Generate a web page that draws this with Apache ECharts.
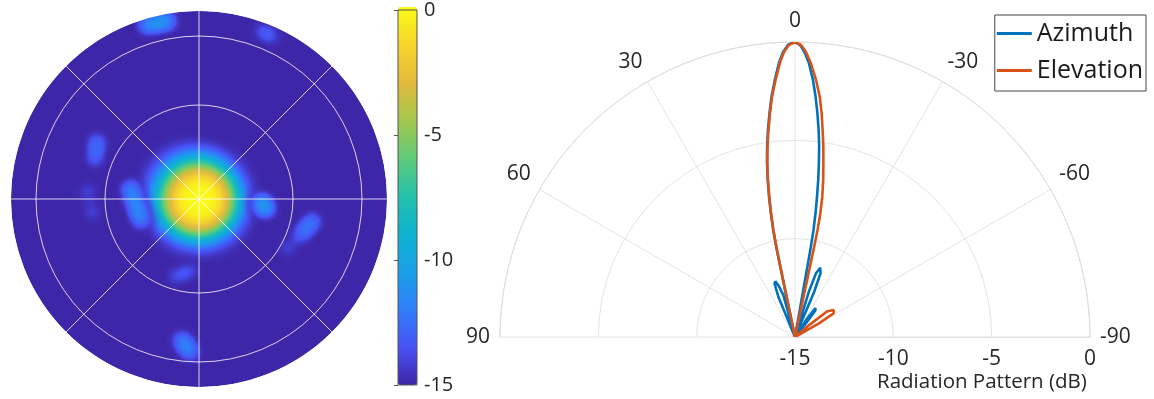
<!DOCTYPE html>
<html>
<head>
<meta charset="utf-8">
<script src="https://cdn.jsdelivr.net/npm/echarts@6/dist/echarts.min.js"></script>
<style>
  html, body { margin: 0; padding: 0; background: #ffffff; }
  #chart { width: 1154px; height: 399px; }
</style>
</head>
<body>
<div id="chart"></div>
<script>
// ---- Beam map in direction-cosine space: [u (right), v (up), level dB] ----
const mainBeamPoints = [
  [0.0, -0.005, 0],
  [-0.06, 0.05, -12.5]
];
const sideLobePoints = [
  [-0.277, 0.926, -12], [-0.218, 0.941, -11.8], [-0.165, 0.947, -12.2],
  [0.335, 0.894, -13.4], [0.388, 0.862, -13.6],
  [-0.543, 0.298, -12.5], [-0.553, 0.218, -12.9],
  [-0.59, 0.037, -13.6], [-0.569, -0.069, -13.6],
  [-0.362, 0.048, -11.6], [-0.335, -0.032, -11.4], [-0.309, -0.106, -11.8],
  [0.33, -0.016, -11.8], [0.356, -0.053, -11.8],
  [0.601, -0.122, -12.3], [0.548, -0.181, -12.5], [0.473, -0.261, -13.6],
  [-0.122, -0.41, -13.4], [-0.048, -0.383, -13.4],
  [-0.09, -0.755, -12], [-0.048, -0.809, -12.2]
];
const levelMin = -15;
const levelMax = 0;
const parulaStops = ['#3e26a8', '#4852f4', '#2f7ff9', '#1a9fe8', '#0db3d2', '#25c1aa',
                     '#5fcb7a', '#a4c64c', '#e3ba3e', '#f7d52b', '#f9fb15'];

// ---- Radiation pattern cuts: angle (deg) and level (dB) ----
const azimuthAngles = [90, 24, 22.5, 21, 19.5, 17.5, 15.5, 14.5,
  12.1, 11.9, 11.8, 11.5, 11.0, 10.5, 9.85, 9.15, 8.35, 7.45, 6.5, 5.6, 4.5, 3.3, 2.4, 1.3, 0,
  -1.1, -2.0, -2.9, -4.0, -4.9, -5.7, -6.5, -7.2, -7.8, -8.4, -8.9, -9.4, -9.8, -10.0, -10.0, -9.9,
  -16, -17, -18.2, -20, -21.8, -23, -24,
  -32, -33.5, -35.5, -37.5, -39, -40, -90];
const azimuthDb = [-15, -15, -12.8, -12.1, -12.0, -12.3, -12.8, -15,
  -15, -12.5, -10.5, -9.45, -8.58, -7.76, -6.9, -6.04, -5.24, -4.39, -3.54, -2.74, -1.9, -1.0, -0.5, -0.12, 0,
  -0.18, -0.55, -1.05, -1.9, -2.74, -3.55, -4.39, -5.2, -6.05, -6.9, -7.75, -8.6, -9.45, -10.5, -12.5, -15,
  -15, -12.6, -11.6, -11.25, -11.5, -12.5, -15,
  -15, -13.8, -13.2, -13.3, -14.2, -15, -15];
const elevationAngles = [90, 12.0, 11.8, 11.7, 11.45, 10.95, 10.4, 9.76, 9.05, 8.24, 7.3, 6.37, 5.47, 4.34, 3.1, 2.2, 1.2, 0,
  -1.2, -2.2, -3.3, -4.7, -5.9, -6.8, -7.6, -8.45, -9.25, -10.2, -11.0, -11.6, -11.9, -12.0, -12.0,
  -48, -50, -51.5, -55, -58.5, -60.5, -62, -90];
const elevationDb = [-15, -15, -12.5, -10.5, -9.45, -8.58, -7.76, -6.9, -6.04, -5.24, -4.39, -3.54, -2.74, -1.9, -1.0, -0.5, -0.15, 0,
  -0.15, -0.5, -1.05, -1.9, -2.73, -3.55, -4.38, -5.2, -6.03, -6.9, -7.73, -8.6, -9.43, -10.5, -15,
  -15, -14, -12.9, -12.6, -12.7, -13.6, -15, -15];

const FONT = '"Open Sans"';
const TEXT = '#262626';

// unit disk outline for the beam-map region
const diskRing = [];
for (let i = 0; i <= 180; i++) {
  const t = (i / 180) * Math.PI * 2;
  diskRing.push([Math.cos(t), Math.sin(t)]);
}
echarts.registerMap('uvDisk', {
  type: 'FeatureCollection',
  features: [{ type: 'Feature', properties: { name: 'disk' },
    geometry: { type: 'Polygon', coordinates: [diskRing] } }]
});

const chart = echarts.init(document.getElementById('chart'));

const pairs = (angles, levels) => angles.map((a, i) => [levels[i], a]);

// polar frames drawn over the beam map: rings, spokes and a white rim
const mapPolar = (r) => ({ center: [199, 199], radius: r });
const mapAngleAxis = (idx, opts) => ({
  polarIndex: idx, type: 'value', min: 0, max: 360, interval: 45, z: opts.z || 10,
  axisLine: { show: !!opts.ring, lineStyle: { color: opts.ringColor || 'rgba(255,255,255,0.8)', width: opts.ringWidth || 1 } },
  axisTick: { show: false }, axisLabel: { show: false },
  splitLine: { show: !!opts.spokes, lineStyle: { color: 'rgba(255,255,255,0.8)', width: 1 } }
});

const heatLayer = (points, pointSize, blurSize, soft, z) => ({
  type: 'heatmap', coordinateSystem: 'geo', geoIndex: 0,
  pointSize: pointSize, blurSize: blurSize,
  minOpacity: soft ? 0 : 1, maxOpacity: soft ? 10 : 1,
  silent: true, z: z,
  data: points
});

chart.setOption({
  animation: false,
  backgroundColor: '#ffffff',
  geo: {
    map: 'uvDisk',
    roam: false,
    silent: true,
    aspectScale: 1,
    boundingCoords: [[-1, 1], [1, -1]],
    layoutCenter: [199, 199],
    layoutSize: 376,
    itemStyle: { areaColor: parulaStops[0], borderWidth: 0 },
    emphasis: { disabled: true },
    label: { show: false }
  },
  visualMap: {
    type: 'continuous',
    min: levelMin, max: levelMax,
    seriesIndex: [0, 1],
    calculable: false,
    orient: 'vertical',
    left: 398, top: 7,
    padding: 0,
    itemWidth: 19, itemHeight: 378,
    text: null,
    showLabel: false,
    hoverLink: false,
    z: 8,
    inRange: { color: parulaStops }
  },
  grid: {
    left: 398, top: 7, width: 19, height: 378, z: 9,
    show: true, borderColor: '#555', borderWidth: 1, backgroundColor: 'transparent'
  },
  xAxis: { type: 'value', show: false, min: 0, max: 1 },
  yAxis: {
    type: 'value', position: 'right', min: levelMin, max: levelMax, interval: 5, z: 9,
    axisLine: { show: false },
    axisTick: { show: true, inside: true, length: 4, lineStyle: { color: '#555' } },
    splitLine: { show: false },
    axisLabel: { margin: 7, fontSize: 20, fontFamily: FONT, color: TEXT }
  },
  polar: [mapPolar(94), mapPolar(163), mapPolar(188), mapPolar(195),
    { center: [795, 337], radius: 295 }],
  angleAxis: [
    mapAngleAxis(0, { ring: true }),
    mapAngleAxis(1, { ring: true }),
    mapAngleAxis(2, { spokes: true }),
    mapAngleAxis(3, { ring: true, ringColor: '#ffffff', ringWidth: 14, z: 6 }),
    {
      polarIndex: 4, type: 'value', min: -90, max: 90, interval: 30,
      startAngle: 0, endAngle: 180, clockwise: false,
      axisLine: { show: true, lineStyle: { color: '#dedede', width: 1 } },
      axisTick: { show: false },
      axisLabel: { margin: 10, fontSize: 21, fontFamily: FONT, color: TEXT },
      splitLine: { show: true, lineStyle: { color: '#e4e4e4', width: 1 } }
    }
  ],
  radiusAxis: [
    { polarIndex: 0, show: false, min: 0, max: 1 },
    { polarIndex: 1, show: false, min: 0, max: 1 },
    { polarIndex: 2, show: false, min: 0, max: 1 },
    { polarIndex: 3, show: false, min: 0, max: 1 },
    {
      polarIndex: 4, type: 'value', min: levelMin, max: levelMax, interval: 5,
      axisLine: { show: true, lineStyle: { color: '#dedede' } },
      axisTick: { show: false },
      axisLabel: { margin: -12, verticalAlign: 'top', fontSize: 21, fontFamily: FONT, color: TEXT },
      splitLine: { show: true, lineStyle: { color: '#e4e4e4', width: 1 } }
    }
  ],
  title: {
    text: 'Radiation Pattern (dB)',
    left: 877, top: 372, padding: 0,
    textStyle: { fontSize: 20.5, fontWeight: 'normal', fontFamily: FONT, color: TEXT }
  },
  legend: {
    orient: 'vertical', right: 8, top: 15,
    borderColor: '#444', borderWidth: 1, padding: [6, 3, 8, 2],
    itemGap: 12, itemWidth: 35, itemHeight: 3, icon: 'rect',
    textStyle: { fontSize: 25, fontFamily: FONT, color: '#1a1a1a' },
    data: ['Azimuth', 'Elevation']
  },
  series: [
    heatLayer(mainBeamPoints, 39, 24, false, 2),
    heatLayer(sideLobePoints, 10, 12, true, 4),
    {
      name: 'Azimuth', type: 'line', coordinateSystem: 'polar', polarIndex: 4,
      symbol: 'none', smooth: false, z: 5,
      lineStyle: { color: '#0072BD', width: 2.6 }, itemStyle: { color: '#0072BD' },
      data: pairs(azimuthAngles, azimuthDb)
    },
    {
      name: 'Elevation', type: 'line', coordinateSystem: 'polar', polarIndex: 4,
      symbol: 'none', smooth: false, z: 6,
      lineStyle: { color: '#D95319', width: 2.6 }, itemStyle: { color: '#D95319' },
      data: pairs(elevationAngles, elevationDb)
    }
  ]
});
</script>
</body>
</html>
